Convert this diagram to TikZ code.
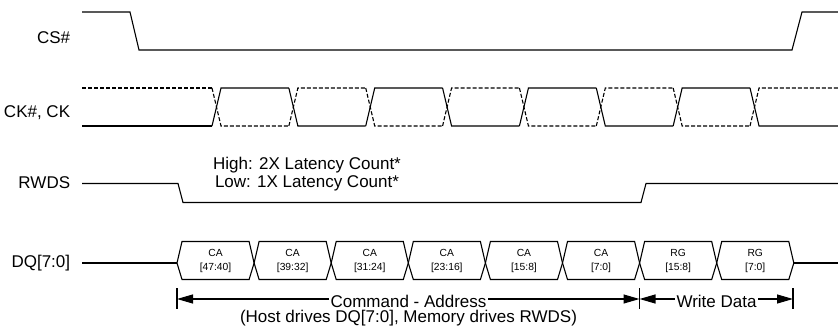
\documentclass[tikz,border=0pt]{standalone}
\usepackage{fontspec}
\setmainfont{Liberation Sans}
\usetikzlibrary{arrows.meta, positioning}

\begin{document}
\begin{tikzpicture}[x=1pt, y=-1pt, line width=1.1pt, >={Triangle[length=16pt,width=9pt]},
  lbl/.style={anchor=east, font=\fontsize{17}{19}\selectfont},
  txt/.style={font=\fontsize{17}{18.5}\selectfont, inner sep=1pt},
  dsh/.style={dash pattern=on 4pt off 2pt}]
\useasboundingbox (0,0) rectangle (838,331);

% CS#
\node[lbl] (cs) at (74,38) {CS\#};
\draw (82,12)--(130,12)--(139,50)--(792,50)--(802,12)--(838,12);

% clock
\node[lbl] (ck) at (74,113) {CK\#, CK};
\draw (82,126)--(212,126);
\draw[dsh] (82,88)--(212,88);
\foreach \i in {0,...,7}{
  \pgfmathsetmacro\xa{212+76.86*\i}
  \pgfmathsetmacro\xb{\xa+9}
  \pgfmathsetmacro\xc{\i<7 ? \xa+76.86 : 838}
  \pgfmathsetmacro\yt{mod(\i,2)==0 ? 88 : 126}
  \pgfmathsetmacro\yf{mod(\i,2)==0 ? 126 : 88}
  \draw (\xa,\yf)--(\xb,\yt)--(\xc,\yt);
  \draw[dsh] (\xa,\yt)--(\xb,\yf)--(\xc,\yf);
}

% RWDS
\node[lbl] (rwds) at (74,183) {RWDS};
\draw (82,183.5)--(178,183.5)--(183,202.5)--(641,202.5)--(646,183.5)--(838,183.5);
\node[txt, align=center] (lat) at (307,174) {High: 2X Latency Count*\\Low: 1X Latency Count*};

% DQ[7:0]
\node[lbl] (dq) at (74,263) {DQ[7:0]};
\draw (82,263)--(177,263);
\draw (794,263)--(838,263);
\foreach \nm/\rg [count=\i from 0] in {CA/47:40, CA/39:32, CA/31:24, CA/23:16, CA/15:8, CA/7:0, RG/15:8, RG/7:0}{
  \pgfmathsetmacro\xl{177+77.1*\i}
  \pgfmathsetmacro\xr{\xl+77.1}
  \draw (\xl,263)--(\xl+5,241.5)--(\xr-5,241.5)--(\xr,263)--(\xr-5,279.5)--(\xl+5,279.5)--cycle;
  \node[font=\fontsize{10.3}{13.7}\selectfont, align=center] (ba\i) at ({(\xl+\xr)/2},261) {\nm\\{[\rg]}};
}

% spans
\coordinate (t0) at (177,299);
\coordinate (t1) at (639.5,299);
\coordinate (t2) at (793,299);
\foreach \t in {t0,t1,t2} \draw (\t) ++(0,-11) -- ++(0,21);
\node[txt] (cmd) at (408.5,301) {Command - Address};
\draw[->] (cmd.west |- t0) -- (t0);
\draw[->] (cmd.east |- t1) -- (t1);
\node[txt] (wd) at (716.5,301) {Write Data};
\draw[->] (wd.west |- t1) -- (t1);
\draw[->] (wd.east |- t2) -- (t2);
\node[txt, inner sep=0pt] (host) at (408.5,318.5) {(Host drives DQ[7:0], Memory drives RWDS)};

\end{tikzpicture}
\end{document}
